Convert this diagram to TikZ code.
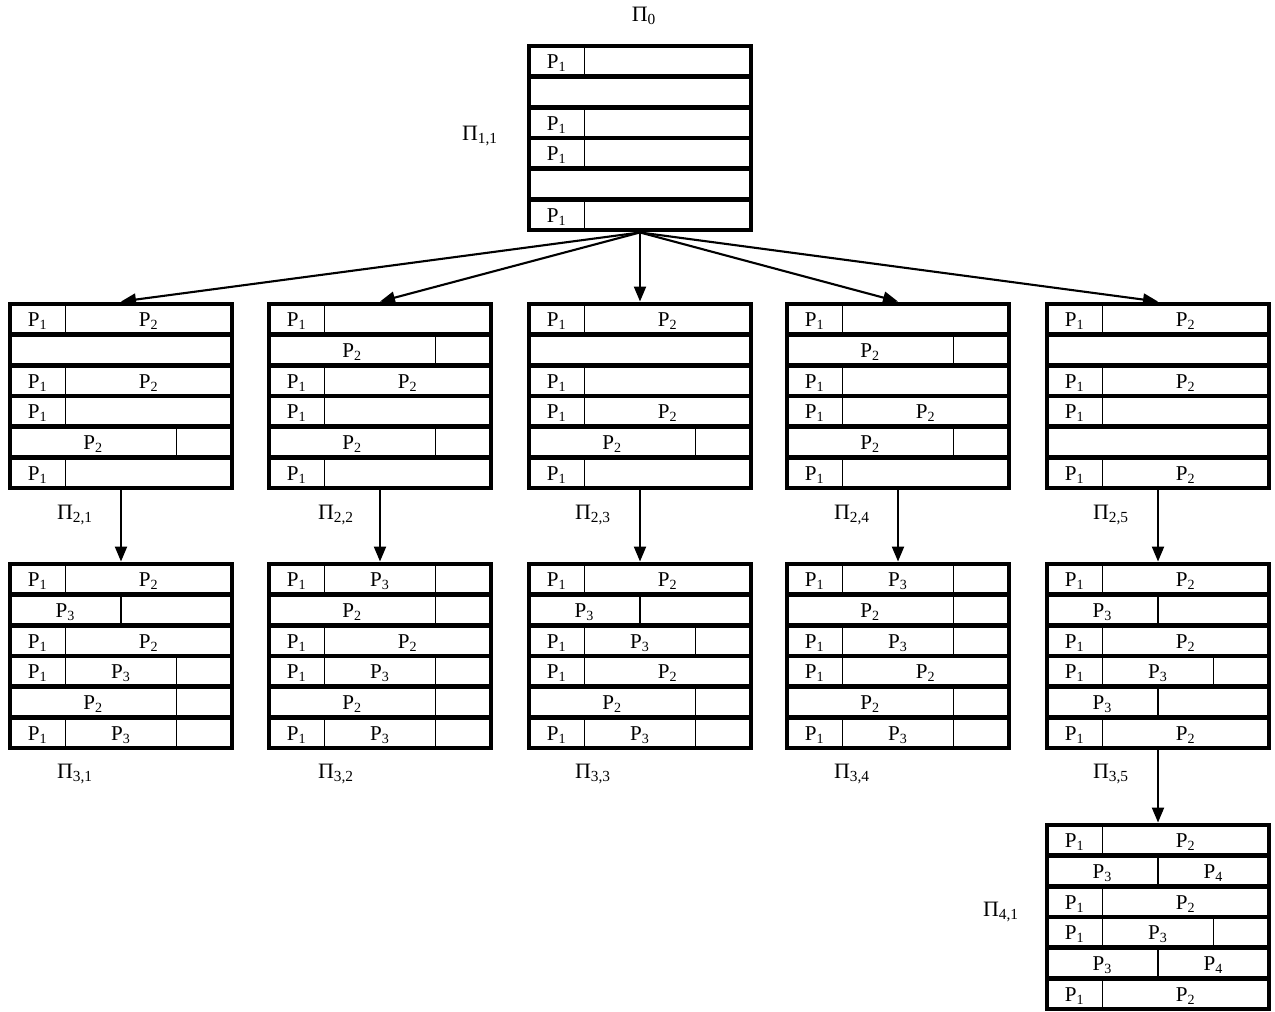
\documentclass[tikz,border=0pt]{standalone}
\usepackage{fontspec}
\setmainfont{Liberation Serif}
\usetikzlibrary{arrows.meta}
% row types: from/to (part of the width)/index of P, 0 = blank cell
\newcommand{\rowA}{0/.25/1,.25/1/0}
\newcommand{\rowB}{0/.25/1,.25/1/2}
\newcommand{\rowC}{0/.75/2,.75/1/0}
\newcommand{\rowD}{0/.5/3,.5/1/0}
\newcommand{\rowE}{0/1/0}
\newcommand{\rowF}{0/.25/1,.25/.75/3,.75/1/0}
\newcommand{\rowG}{0/.5/3,.5/1/4}
\newcommand{\pp}[1]{P\textsubscript{#1}}
% table: name, left, top, list of row types
\newcommand{\ptab}[4]{%
  \node[tab] (#1) at ({#2+111},{#3+92}) {};
  \foreach \code [count=\ri from 0] in {#4} {
    \edef\cells{\csname row\code\endcsname}
    \ifnum\ri>0 \draw[sep] (#2,{#3+\ri*30.667}) -- ++(222,0);\fi
    \foreach \xa/\xb/\lab [count=\ci] in \cells {
      \ifdim\xa pt>0pt \draw[div] ({#2+\xa*222},{#3+\ri*30.667}) -- ++(0,30.667);\fi
      \ifnum\lab>0 \node[cell] (#1-\ri-\ci) at ({#2+(\xa+\xb)*111},{#3+(\ri+.57)*30.667}) {\pp{\lab}};\fi
    }
  }
}

\begin{document}
\begin{tikzpicture}[x=0.2mm,y=-0.2mm,
  tab/.style={draw,line width=2.8pt,minimum width=4.44cm,minimum height=3.68cm,inner sep=0pt},
  sep/.style={line width=2.6pt},
  div/.style={line width=1pt},
  cell/.style={inner sep=0pt,font=\fontsize{12}{14}\selectfont},
  plab/.style={inner sep=0pt,font=\fontsize{12.5}{14}\selectfont},
  arr/.style={line width=1.2pt,-{Triangle[length=3mm,width=2.4mm]}}]
  \useasboundingbox (0,0) rectangle (1275,1012);

  % level 0
  \ptab{t0}{529}{46}{A,E,A,A,E,A}
  \node[plab] (l0) at (644,16) {Π\textsubscript{0}};
  \node[plab] (l11) at (480,136) {Π\textsubscript{1,1}};

  % level 2
  \ptab{t21}{10}{304}{B,E,B,A,C,A}
  \ptab{t22}{269}{304}{A,C,B,A,C,A}
  \ptab{t23}{529}{304}{B,E,A,B,C,A}
  \ptab{t24}{787}{304}{A,C,A,B,C,A}
  \ptab{t25}{1047}{304}{B,E,B,A,E,B}
  \node[plab] (l21) at (75,515) {Π\textsubscript{2,1}};
  \node[plab] (l22) at (336,515) {Π\textsubscript{2,2}};
  \node[plab] (l23) at (593,515) {Π\textsubscript{2,3}};
  \node[plab] (l24) at (852,515) {Π\textsubscript{2,4}};
  \node[plab] (l25) at (1111,515) {Π\textsubscript{2,5}};

  % level 3
  \ptab{t31}{10}{564}{B,D,B,F,C,F}
  \ptab{t32}{269}{564}{F,C,B,F,C,F}
  \ptab{t33}{529}{564}{B,D,F,B,C,F}
  \ptab{t34}{787}{564}{F,C,F,B,C,F}
  \ptab{t35}{1047}{564}{B,D,B,F,D,B}
  \node[plab] (l31) at (75,774) {Π\textsubscript{3,1}};
  \node[plab] (l32) at (336,774) {Π\textsubscript{3,2}};
  \node[plab] (l33) at (593,774) {Π\textsubscript{3,3}};
  \node[plab] (l34) at (852,774) {Π\textsubscript{3,4}};
  \node[plab] (l35) at (1111,774) {Π\textsubscript{3,5}};

  % level 4
  \ptab{t41}{1047}{825}{B,G,B,F,G,B}
  \node[plab] (l41) at (1001,912) {Π\textsubscript{4,1}};

  % arrows
  \foreach \j in {1,...,5} {
    \draw[arr] (t0.south) -- (t2\j.north);
    \draw[arr] (t2\j.south) -- (t3\j.north);
  }
  \draw[arr] (t35.south) -- (t41.north);
\end{tikzpicture}
\end{document}
